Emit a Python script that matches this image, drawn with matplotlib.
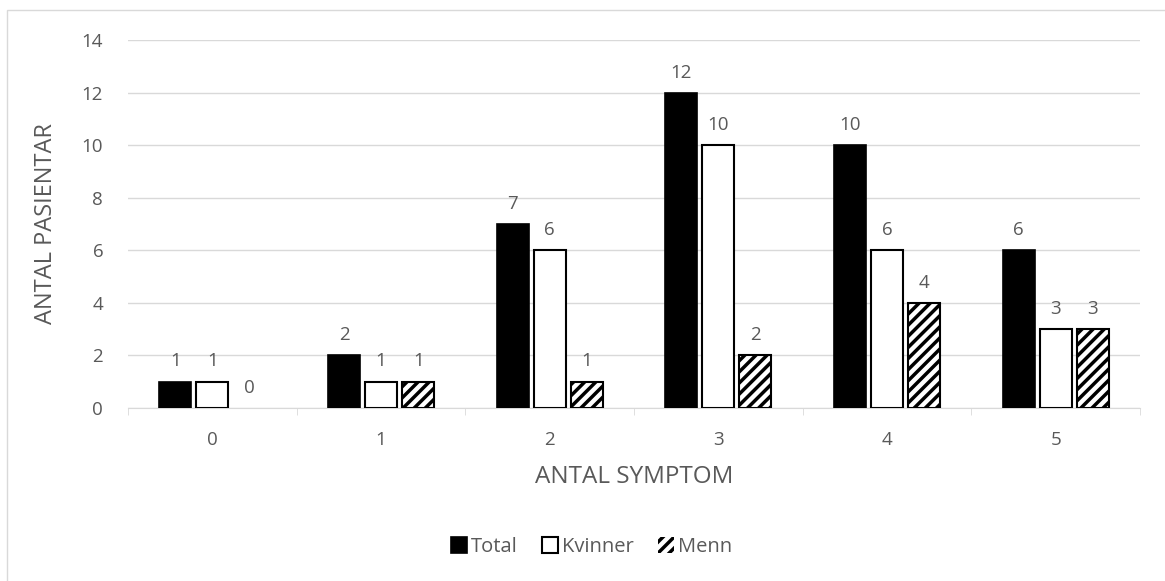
import matplotlib.pyplot as plt
import numpy as np
from matplotlib.patches import Rectangle

categories = ["0", "1", "2", "3", "4", "5"]
total = [1, 2, 7, 12, 10, 6]
kvinner = [1, 1, 6, 10, 6, 3]
menn = [0, 1, 1, 2, 4, 3]

plt.rcParams['font.family'] = ['Open Sans', 'DejaVu Sans']
plt.rcParams['hatch.linewidth'] = 2.5
grey = '#595959'


def main():
    fig = plt.figure(figsize=(11.65, 5.81), dpi=100)
    # chart frame, only left and top edges are visible in the original
    fig.patches.append(Rectangle((0.006, -0.1), 1.2, 1.082, transform=fig.transFigure,
                                 fill=False, edgecolor='#d9d9d9', linewidth=1))
    ax = fig.add_axes([0.110, 0.298, 0.8685, 0.633])

    x = np.arange(len(categories))
    w = 0.19
    off = 0.22
    b1 = ax.bar(x - off, total, w, color='black', edgecolor='black', linewidth=1.2,
                label='Total', zorder=3)
    b2 = ax.bar(x, kvinner, w, color='white', edgecolor='black', linewidth=1.5,
                label='Kvinner', zorder=3)
    b3 = ax.bar(x + off, menn, w, color='white', edgecolor='black', linewidth=1.5,
                hatch='///', label='Menn', zorder=3)
    for bars in (b1, b2, b3):
        ax.bar_label(bars, padding=8, fontsize=13.5, color=grey)
    # zero-height bars show nothing in the original
    for bars in (b1, b2, b3):
        for rect in bars:
            if rect.get_height() == 0:
                rect.set_linewidth(0)

    ax.set_xlim(-0.5, len(categories) - 0.5)
    ax.set_ylim(0, 14)
    ax.set_yticks(range(0, 15, 2))
    ax.set_xticks(x)
    ax.set_xticklabels(categories)
    ax.set_xticks(np.arange(-0.5, len(categories), 1), minor=True)
    ax.tick_params(axis='x', which='major', length=0, pad=17, labelsize=13.5, labelcolor=grey)
    ax.tick_params(axis='x', which='minor', length=5, color='#d9d9d9')
    ax.tick_params(axis='y', length=0, pad=18, labelsize=13.5, labelcolor=grey)
    ax.grid(axis='y', color='#d9d9d9', linewidth=1, zorder=0)
    for s in ['top', 'right', 'left']:
        ax.spines[s].set_visible(False)
    ax.spines['bottom'].set_color('#d9d9d9')

    ax.set_xlabel('ANTAL SYMPTOM', fontsize=17.5, color=grey, labelpad=11)
    ax.set_ylabel('ANTAL PASIENTAR', fontsize=17, color=grey)
    ax.yaxis.set_label_coords(-0.069, 0.5)

    ax.legend(loc='center', bbox_to_anchor=(0.458, -0.378), ncol=3, frameon=False,
              fontsize=14.5, labelcolor=grey, handlelength=0.8, handleheight=0.8,
              handletextpad=0.2, columnspacing=1.2)

    fig.savefig('out.png', dpi=100)


if __name__ == "__main__":
    main()
